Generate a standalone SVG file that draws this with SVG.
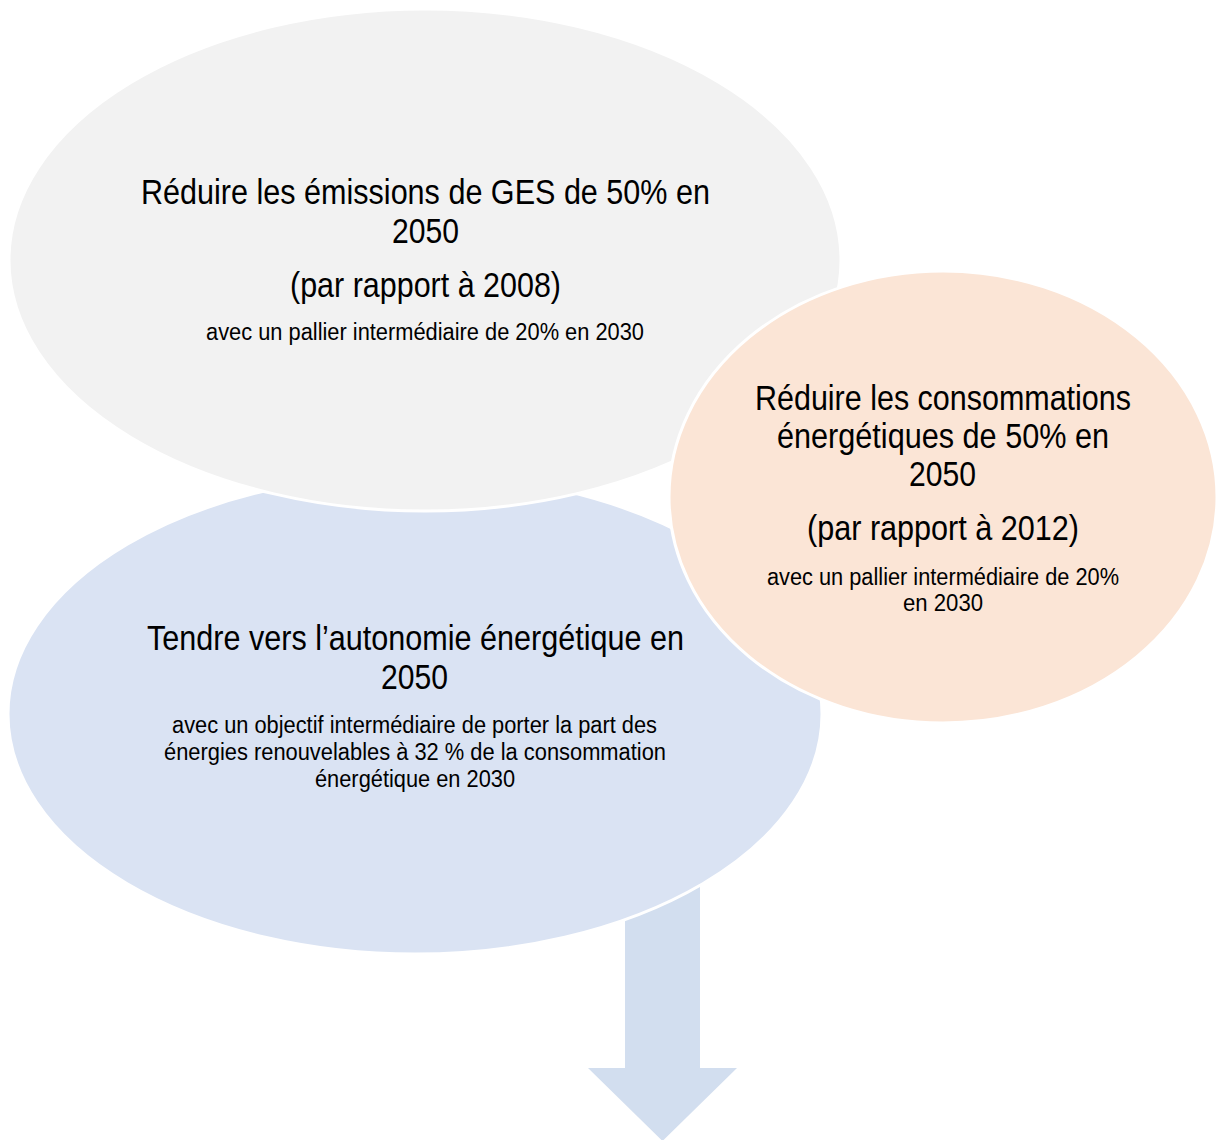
<svg xmlns="http://www.w3.org/2000/svg" width="1224" height="1140" viewBox="0 0 1224 1140">
  <style>
    .shape { stroke: #FFFFFF; stroke-width: 3; }
    .big { font-family: "Liberation Sans Narrow", "Liberation Sans", Arial, sans-serif; font-size: 35px; fill: #000000; text-anchor: middle; }
    .small { font-family: "Liberation Sans Narrow", "Liberation Sans", Arial, sans-serif; font-size: 23.5px; fill: #000000; text-anchor: middle; }
  </style>
  <rect width="1224" height="1140" fill="#FFFFFF"/>
  <g id="connectors">
    <polygon id="arrow-down" points="625,880 700,880 700,1068 737,1068 662.5,1141 588,1068 625,1068" fill="#D2DEEF"/>
  </g>
  <g id="node-autonomie">
    <ellipse class="shape" cx="415" cy="714" rx="407" ry="240" fill="#DAE3F3"/>
    <text class="big" x="415.5" y="650" textLength="537" lengthAdjust="spacingAndGlyphs">Tendre vers l’autonomie énergétique en</text>
    <text class="big" x="414.5" y="689" textLength="67" lengthAdjust="spacingAndGlyphs">2050</text>
    <text class="small" x="414.5" y="733" textLength="485" lengthAdjust="spacingAndGlyphs">avec un objectif intermédiaire de porter la part des</text>
    <text class="small" x="415" y="760" textLength="502" lengthAdjust="spacingAndGlyphs">énergies renouvelables à 32 % de la consommation</text>
    <text class="small" x="415" y="787" textLength="200" lengthAdjust="spacingAndGlyphs">énergétique en 2030</text>
  </g>
  <g id="node-ges">
    <ellipse class="shape" cx="425" cy="260" rx="416" ry="251" fill="#F2F2F2"/>
    <text class="big" x="425.5" y="204" textLength="569" lengthAdjust="spacingAndGlyphs">Réduire les émissions de GES de 50% en</text>
    <text class="big" x="425.5" y="243" textLength="67" lengthAdjust="spacingAndGlyphs">2050</text>
    <text class="big" x="425.5" y="297" textLength="271" lengthAdjust="spacingAndGlyphs">(par rapport à 2008)</text>
    <text class="small" x="425" y="340" textLength="438" lengthAdjust="spacingAndGlyphs">avec un pallier intermédiaire de 20% en 2030</text>
  </g>
  <g id="node-consommations">
    <ellipse class="shape" cx="943" cy="497" rx="274" ry="226" fill="#FBE5D6"/>
    <text class="big" x="943" y="410" textLength="376" lengthAdjust="spacingAndGlyphs">Réduire les consommations</text>
    <text class="big" x="943" y="448" textLength="332" lengthAdjust="spacingAndGlyphs">énergétiques de 50% en</text>
    <text class="big" x="942.5" y="486" textLength="67" lengthAdjust="spacingAndGlyphs">2050</text>
    <text class="big" x="943" y="540" textLength="272" lengthAdjust="spacingAndGlyphs">(par rapport à 2012)</text>
    <text class="small" x="943" y="585" textLength="352" lengthAdjust="spacingAndGlyphs">avec un pallier intermédiaire de 20%</text>
    <text class="small" x="943" y="611" textLength="80" lengthAdjust="spacingAndGlyphs">en 2030</text>
  </g>
</svg>
